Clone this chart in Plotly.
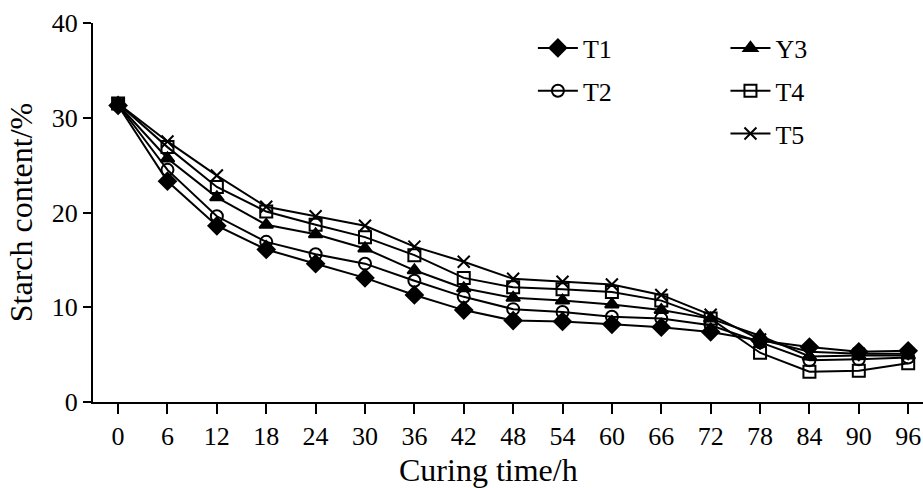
import plotly.graph_objects as go

hours = [0, 6, 12, 18, 24, 30, 36, 42, 48, 54, 60, 66, 72, 78, 84, 90, 96]

T1 = [31.3, 23.3, 18.6, 16.1, 14.6, 13.1, 11.3, 9.7, 8.6, 8.5, 8.2, 7.9, 7.4, 6.5, 5.8, 5.3, 5.4]
T2 = [31.4, 24.5, 19.6, 16.9, 15.6, 14.6, 12.8, 11.1, 9.8, 9.5, 9.0, 8.8, 8.1, 6.3, 4.4, 4.5, 4.7]
Y3 = [31.4, 25.7, 21.6, 18.7, 17.7, 16.2, 13.9, 12.0, 11.0, 10.7, 10.3, 9.7, 8.8, 7.0, 4.8, 4.9, 4.9]
T4 = [31.5, 26.9, 22.7, 20.1, 18.7, 17.4, 15.5, 13.1, 12.1, 11.9, 11.6, 10.7, 8.8, 5.2, 3.2, 3.3, 4.1]
T5 = [31.5, 27.5, 23.9, 20.6, 19.6, 18.6, 16.4, 14.8, 13.0, 12.7, 12.4, 11.3, 9.2, 6.6, 5.3, 5.1, 5.1]

series = [
    ("T1", T1, "diamond", "black", "legend"),
    ("T2", T2, "circle-open", "black", "legend"),
    ("Y3", Y3, "triangle-up", "black", "legend2"),
    ("T4", T4, "square-open", "black", "legend2"),
    ("T5", T5, "x-thin-open", "black", "legend2"),
]

FONT = "Liberation Serif, Times New Roman, serif"

fig = go.Figure()
for name, vals, sym, col, lg in series:
    fig.add_trace(go.Scatter(
        x=hours, y=vals, name=name, mode="lines+markers",
        line=dict(color="black", width=2),
        marker=dict(symbol=sym, size=12 if sym != "diamond" else 13, color=col,
                    line=dict(color="black", width=2)),
        legend=lg, legendgroup=name,
    ))

fig.update_layout(
    width=923, height=488,
    margin=dict(l=93, r=0, t=23, b=86),
    paper_bgcolor="white", plot_bgcolor="white",
    font=dict(family=FONT, size=26, color="black"),
    showlegend=True,
    legend=dict(x=0.53, y=0.996, xanchor="left", yanchor="top",
                bgcolor="rgba(0,0,0,0)", font=dict(size=26, family=FONT),
                tracegroupgap=6, itemwidth=40),
    legend2=dict(x=0.762, y=0.996, xanchor="left", yanchor="top",
                 bgcolor="rgba(0,0,0,0)", font=dict(size=26, family=FONT),
                 tracegroupgap=6, itemwidth=40),
    xaxis=dict(
        range=[-3.05, 97.8], tickmode="array", tickvals=hours,
        ticktext=[str(h) for h in hours],
        showline=True, linecolor="black", linewidth=2,
        ticks="outside", ticklen=10, tickwidth=2, tickcolor="black",
        showgrid=False, zeroline=False,
        tickfont=dict(size=26, family=FONT),
    ),
    yaxis=dict(
        range=[0, 40], tickvals=[0, 10, 20, 30, 40],
        showline=True, linecolor="black", linewidth=2,
        ticks="outside", ticklen=8, tickwidth=2, tickcolor="black",
        showgrid=False, zeroline=False,
        tickfont=dict(size=26, family=FONT),
        title=dict(text="Starch content/%", font=dict(size=32, family=FONT), standoff=10),
    ),
    annotations=[dict(text="Curing time/h", xref="paper", yref="paper",
                      x=0.477, y=-0.179, xanchor="center", yanchor="middle",
                      showarrow=False, font=dict(size=32, family=FONT))],
)

fig.add_shape(type="line", xref="paper", yref="paper", x0=-0.012, x1=0, y0=0, y1=0,
              line=dict(color="black", width=2))

fig.write_html("out.html",
               config={"displayModeBar": False},
               post_script="document.body.style.margin='0';document.body.style.overflow='hidden';")
